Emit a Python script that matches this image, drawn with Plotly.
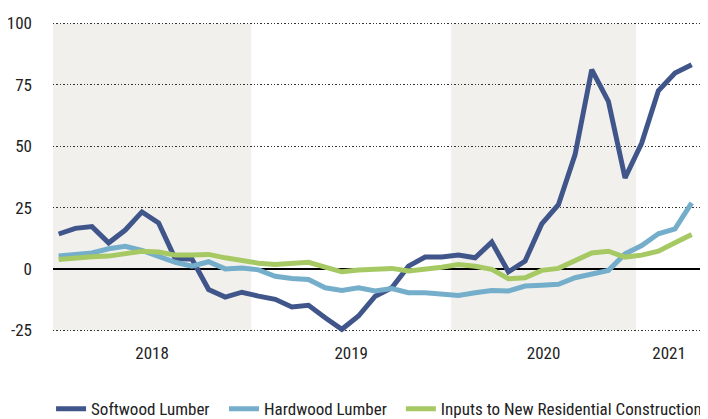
import plotly.graph_objects as go

# Monthly index positions (0 = first observation)
n_points = 39
x_idx = list(range(n_points))

softwood = [14.3, 16.6, 17.3, 10.7, 15.9, 23.3, 18.8, 4.2, 4.1, -8.3, -11.4, -9.4,
            -11.0, -12.3, -15.4, -14.7, -19.8, -24.5, -19.1, -11.0, -7.6, 1.2, 4.9, 4.9,
            5.7, 4.6, 11.0, -1.1, 3.3, 18.4, 26.2, 46.6, 81.2, 68.3, 37.1, 51.3, 72.6, 79.8, 83.2]
hardwood = [5.3, 6.0, 6.6, 8.3, 9.3, 7.6, 5.3, 2.8, 1.2, 3.0, 0.1, 0.5,
            -0.3, -2.9, -3.8, -4.2, -7.6, -8.7, -7.6, -8.9, -7.9, -9.6, -9.6, -10.2,
            -10.7, -9.6, -8.7, -8.9, -6.9, -6.6, -6.2, -3.5, -2.2, -0.5, 6.2, 9.6, 14.4, 16.4, 27.0]
inputs = [3.9, 4.6, 5.0, 5.3, 6.4, 7.3, 7.0, 5.7, 5.7, 6.0, 4.6, 3.5,
          2.4, 1.9, 2.2, 2.8, 0.8, -1.1, -0.4, -0.1, 0.3, -0.8, -0.1, 0.8,
          1.9, 1.2, -0.1, -3.9, -3.5, -0.5, 0.3, 3.5, 6.6, 7.3, 4.9, 5.7, 7.3, 10.7, 14.1]

series_names = ["Softwood Lumber", "Hardwood Lumber", "Inputs to New Residential Construction"]
series_colors = ["#40558a", "#74aecb", "#a6c964"]
legend_ids = ["legend", "legend2", "legend3"]
legend_x = [-0.003, 0.2635, 0.536]

year_labels = ["2018", "2019", "2020", "2021"]
# year band edges on the month-index axis
year_edges = [-0.34, 11.56, 23.56, 34.66, 38.62]
shaded_years = ["2018", "2020"]

y_ticks = [-25, 0, 25, 50, 75, 100]
y_tick_text = [str(v) for v in y_ticks]

FONT = "Roboto Condensed, Liberation Sans Narrow, sans-serif"

fig = go.Figure()
for name, vals, col, lg in zip(series_names, [softwood, hardwood, inputs], series_colors, legend_ids):
    fig.add_trace(go.Scatter(x=x_idx, y=vals, mode="lines", name=name, legend=lg,
                             line=dict(color=col, width=5)))

shapes = []
for i, yl in enumerate(year_labels):
    if yl in shaded_years:
        shapes.append(dict(type="rect", xref="x", yref="y",
                           x0=year_edges[i], x1=year_edges[i + 1], y0=y_ticks[0], y1=y_ticks[-1],
                           fillcolor="#f1f0ec", line=dict(width=0), layer="below"))

centers = [(year_edges[i] + year_edges[i + 1]) / 2 for i in range(len(year_labels))]

legend_layout = {}
for lg, lx in zip(legend_ids, legend_x):
    legend_layout[lg] = dict(orientation="h", x=lx, xanchor="left", y=-0.244, yanchor="middle",
                             font=dict(size=17, color="#222"), itemwidth=30,
                             bgcolor="rgba(0,0,0,0)")

# page has an 8px body margin, so the figure is sized to fit the 708x419 window
fig.update_layout(
    width=700, height=411,
    margin=dict(l=45, r=6, t=13, b=86, autoexpand=False),
    paper_bgcolor="white", plot_bgcolor="white",
    font=dict(family=FONT, size=17, color="#222"),
    shapes=shapes,
    showlegend=True,
    xaxis=dict(range=[year_edges[0], year_edges[-1]], tickvals=centers, ticktext=year_labels,
               showgrid=False, zeroline=False, showline=False, ticks="",
               ticklabelstandoff=8),
    yaxis=dict(range=[-26, 101], tickvals=y_ticks, ticktext=y_tick_text, showgrid=True,
               gridcolor="#333", gridwidth=1.4, griddash="1.4px,2px",
               zeroline=True, zerolinecolor="#000", zerolinewidth=2,
               showline=False, ticks="", ticklabelstandoff=20),
    **legend_layout,
)

fig.write_html("out.html")
